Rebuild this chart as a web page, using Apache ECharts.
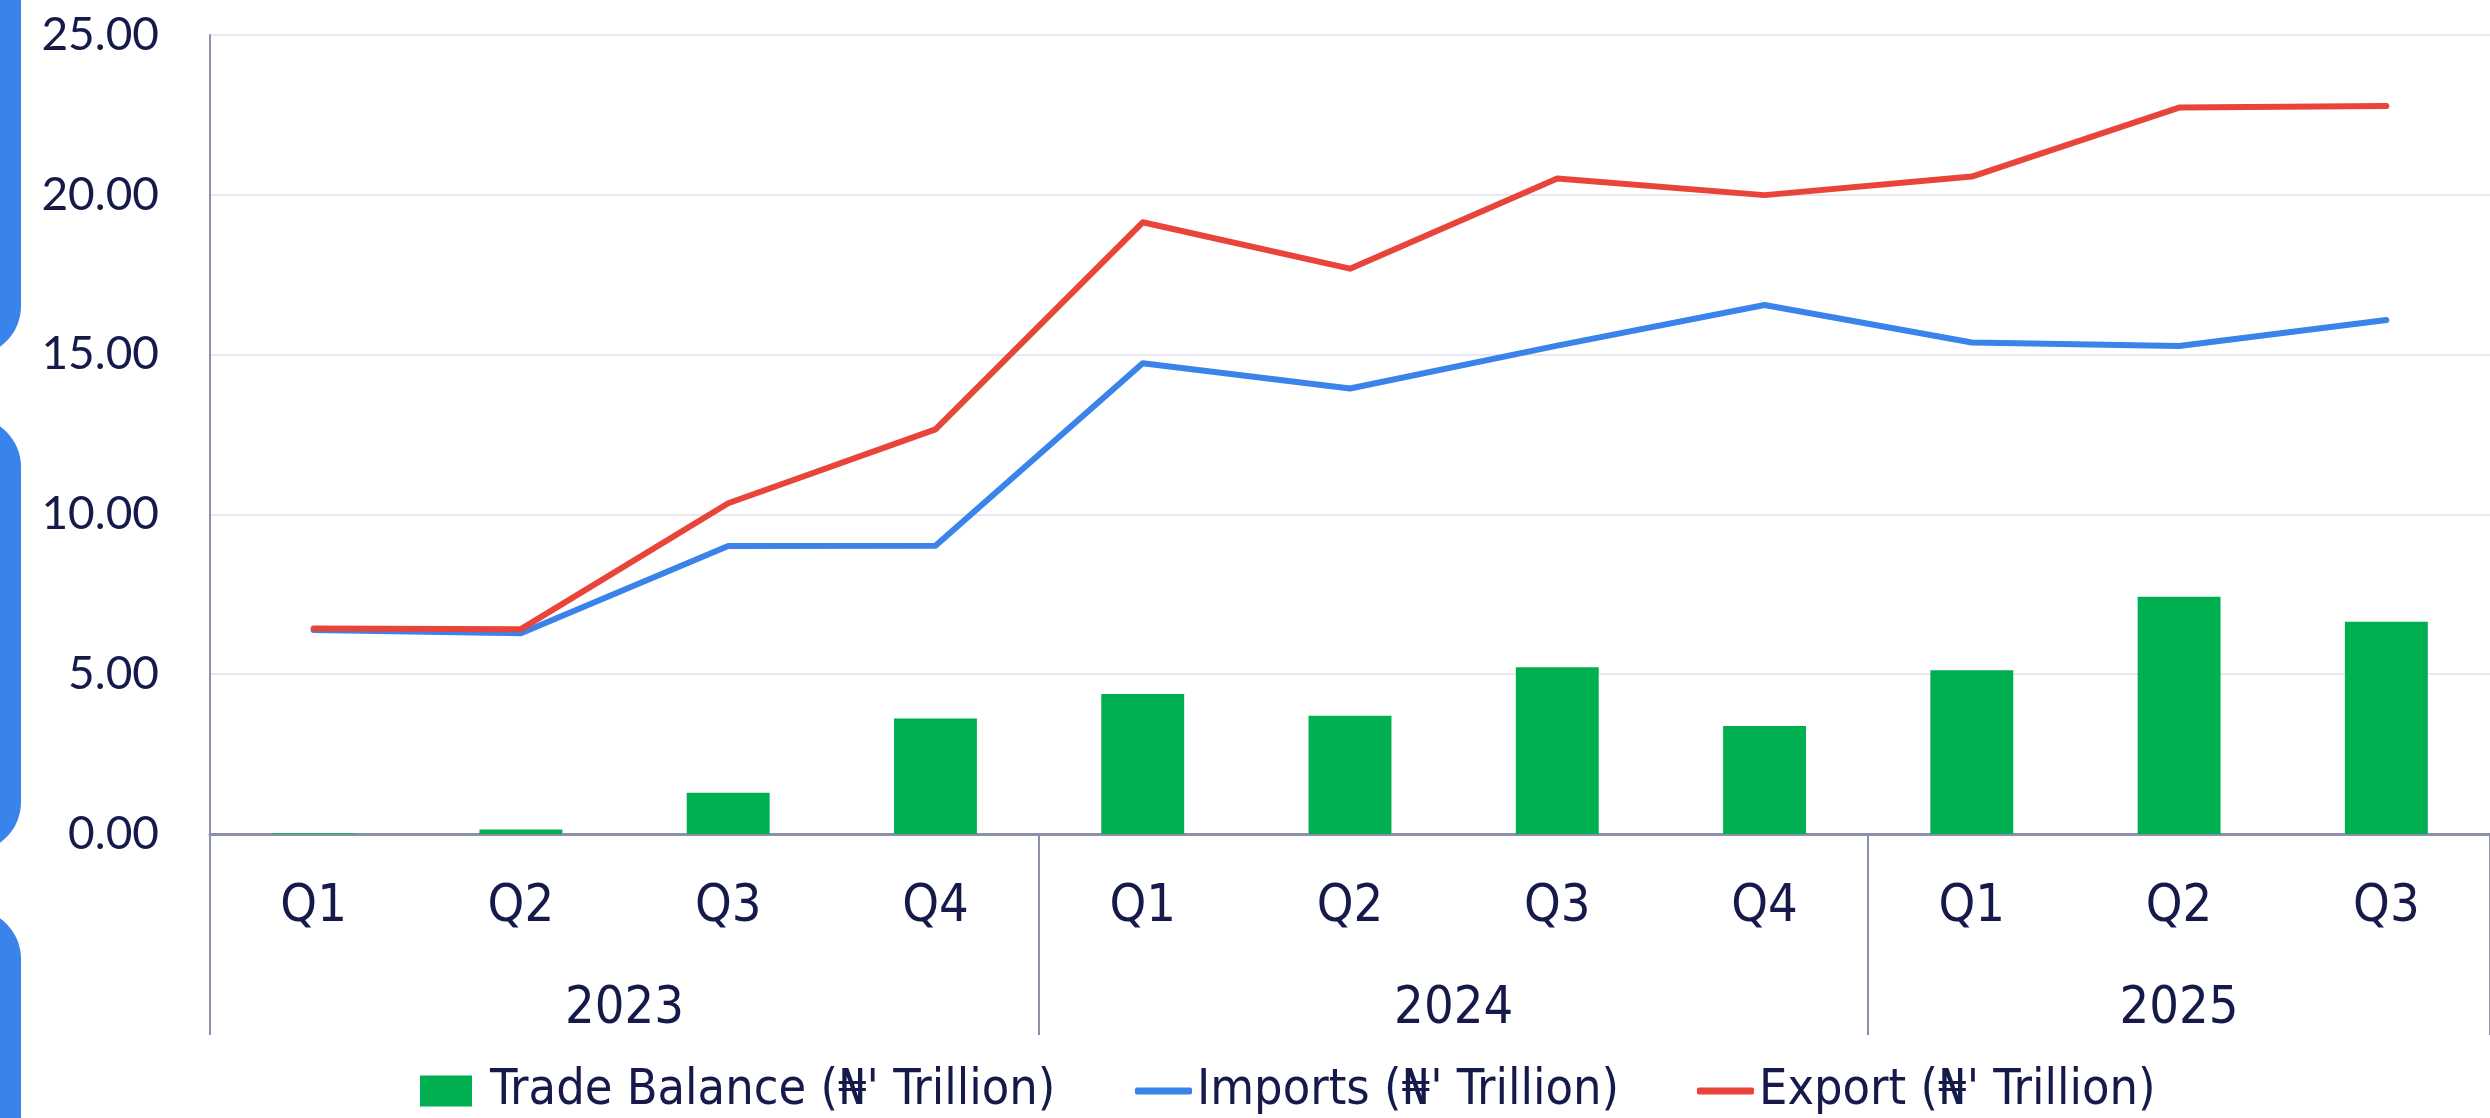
<!DOCTYPE html>
<html>
<head>
<meta charset="utf-8">
<script src="https://cdn.jsdelivr.net/npm/echarts@6/dist/echarts.min.js"></script>
<style>
  html, body { margin: 0; padding: 0; background: #fff; }
  #chart { width: 2490px; height: 1118px; }
</style>
</head>
<body>
<div id="chart"></div>
<script>
// 数据
const quarters = ['Q1', 'Q2', 'Q3', 'Q4', 'Q1', 'Q2', 'Q3', 'Q4', 'Q1', 'Q2', 'Q3']
const years = ['2023', '2024', '2025']
const quartersPerYear = [4, 4, 3]
const tradeBalance = [0.02, 0.14, 1.29, 3.61, 4.38, 3.70, 5.22, 3.38, 5.12, 7.42, 6.64]
const importsData = [6.38, 6.28, 9.01, 9.02, 14.73, 13.94, 15.28, 16.55, 15.38, 15.27, 16.08]
const exportData = [6.43, 6.41, 10.35, 12.66, 19.14, 17.69, 20.51, 19.99, 20.57, 22.73, 22.78]
const yMin = 0
const yMax = 25
const yStep = 5

const names = ["Trade Balance (₦' Trillion)", "Imports (₦' Trillion)", "Export (₦' Trillion)"]

// 年份分组：分隔线位置 + 标签中心
const yearBounds = [0]
quartersPerYear.forEach(n => yearBounds.push(yearBounds[yearBounds.length - 1] + n))
const yearCenters = years.map((y, i) => (yearBounds[i] + yearBounds[i + 1]) / 2)

const textColor = '#161a4a'
const axisColor = '#8c90a8'
const narrowFont = "'Liberation Sans Narrow', 'DejaVu Sans Condensed', 'Noto Sans', sans-serif"
const blue = '#3a83eb'
const red = '#e8443a'

const myChart = echarts.init(document.getElementById('chart'))

const legendBase = {
  top: 1062,
  padding: 0,
  itemHeight: 31,
  textStyle: { color: textColor, fontSize: 50, fontFamily: narrowFont, lineHeight: 58 }
}

const option = {
  animation: false,
  backgroundColor: '#fff',
  grid: { left: 210, top: 35, width: 2295, height: 799, containLabel: false },
  legend: [
    Object.assign({}, legendBase, {
      left: 420, data: [names[0]], itemWidth: 52, icon: 'rect',
      textStyle: Object.assign({}, legendBase.textStyle, { padding: [0, 0, 0, 13] })
    }),
    // 折线图例：只画一段圆角短线，不要圆点
    Object.assign({}, legendBase, { left: 1135, data: [names[1]], itemWidth: 57, itemHeight: 7, icon: 'roundRect' }),
    Object.assign({}, legendBase, { left: 1697, data: [names[2]], itemWidth: 57, itemHeight: 7, icon: 'roundRect' })
  ],
  xAxis: [
    {
      type: 'category',
      data: quarters,
      position: 'bottom',
      axisLine: { show: true, onZero: false, lineStyle: { color: axisColor, width: 3 } },
      axisTick: { show: false },
      axisLabel: {
        color: textColor, fontSize: 52, fontFamily: narrowFont,
        margin: 73, verticalAlign: 'middle', interval: 0
      },
      splitLine: { show: false }
    },
    {
      type: 'value',
      min: 0,
      max: quarters.length,
      position: 'bottom',
      offset: 0,
      axisLine: { show: false, onZero: false },
      axisTick: {
        show: true, customValues: yearBounds, length: 201,
        lineStyle: { color: axisColor, width: 2 }
      },
      axisLabel: {
        show: true, customValues: yearCenters,
        formatter: v => years[yearCenters.indexOf(v)] || '',
        color: textColor, fontSize: 52, fontFamily: narrowFont,
        margin: 175, verticalAlign: 'middle'
      },
      splitLine: { show: false }
    }
  ],
  yAxis: {
    type: 'value',
    min: yMin,
    max: yMax,
    interval: yStep,
    axisLine: { show: true, lineStyle: { color: axisColor, width: 2 } },
    axisTick: { show: false },
    axisLabel: {
      color: textColor, fontSize: 46, fontFamily: "Lato, 'DejaVu Sans', sans-serif",
      margin: 51, formatter: v => v.toFixed(2)
    },
    splitLine: { lineStyle: { color: '#e8e8ee', width: 2 } }
  },
  series: [
    {
      name: names[0],
      type: 'bar',
      data: tradeBalance,
      barWidth: '40%',
      itemStyle: { color: '#00b050' }
    },
    {
      name: names[1],
      type: 'line',
      data: importsData,
      symbol: 'none',
      lineStyle: { color: blue, width: 6, cap: 'round', join: 'round' },
      itemStyle: { color: blue }
    },
    {
      name: names[2],
      type: 'line',
      data: exportData,
      symbol: 'none',
      lineStyle: { color: red, width: 6, cap: 'round', join: 'round' },
      itemStyle: { color: red }
    }
  ],
  // 左侧幻灯片装饰条
  graphic: [
    { type: 'rect', shape: { x: -100, y: -200, width: 121, height: 556, r: 50 }, style: { fill: blue } },
    { type: 'rect', shape: { x: -100, y: 417, width: 121, height: 435, r: 50 }, style: { fill: blue } },
    { type: 'rect', shape: { x: -100, y: 909, width: 121, height: 400, r: 50 }, style: { fill: blue } }
  ]
}

myChart.setOption(option)
</script>
</body>
</html>
